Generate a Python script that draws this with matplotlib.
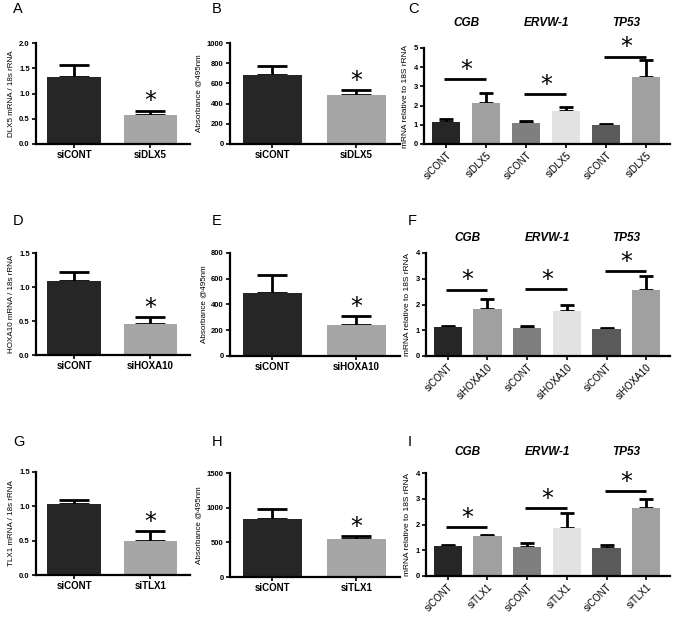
import numpy as np
import matplotlib
matplotlib.use("Agg")
import matplotlib.pyplot as plt
from matplotlib.transforms import blended_transform_factory
from matplotlib.ticker import FormatStrFormatter

plt.rcParams["font.family"] = ["Liberation Sans", "DejaVu Sans"]

# ---- data ----
dlx5_groups = ["siCONT", "siDLX5"]
hoxa10_groups = ["siCONT", "siHOXA10"]
tlx1_groups = ["siCONT", "siTLX1"]
genes = ["CGB", "ERVW-1", "TP53"]

# A / D / G : knockdown efficiency (mRNA / 18s rRNA)
dlx5_mrna = [1.32, 0.58]
dlx5_mrna_err = [0.24, 0.08]
hoxa10_mrna = [1.09, 0.46]
hoxa10_mrna_err = [0.13, 0.10]
tlx1_mrna = [1.03, 0.50]
tlx1_mrna_err = [0.06, 0.14]

# B / E / H : absorbance @495nm
dlx5_abs = [685, 487]
dlx5_abs_err = [83, 43]
hoxa10_abs = [489, 241]
hoxa10_abs_err = [140, 70]
tlx1_abs = [837, 548]
tlx1_abs_err = [144, 43]

# C / F / I : CGB, ERVW-1, TP53 (siCONT, siKD pairs)
dlx5_genes = [1.16, 2.15, 1.10, 1.72, 1.00, 3.50]
dlx5_genes_err = [0.13, 0.52, 0.12, 0.23, 0.05, 0.90]
dlx5_sig = [3.39, 2.60, 4.55]
hoxa10_genes = [1.12, 1.84, 1.10, 1.73, 1.05, 2.58]
hoxa10_genes_err = [0.04, 0.39, 0.08, 0.27, 0.05, 0.51]
hoxa10_sig = [2.58, 2.60, 3.30]
tlx1_genes = [1.15, 1.55, 1.12, 1.88, 1.08, 2.66]
tlx1_genes_err = [0.06, 0.03, 0.16, 0.55, 0.12, 0.32]
tlx1_sig = [1.90, 2.63, 3.30]

dark = "#262626"
light = "#a6a6a6"
gene_colors = ["#262626", "#a0a0a0", "#7f7f7f", "#e2e2e2", "#5a5a5a", "#a0a0a0"]

W, H = 675, 619
fig = plt.figure(figsize=(W / 100, H / 100), dpi=100)


def px_axes(x0, y0, x1, y1):
    return fig.add_axes([x0 / W, 1 - y1 / H, (x1 - x0) / W, (y1 - y0) / H])


def style(ax):
    for s in ["top", "right"]:
        ax.spines[s].set_visible(False)
    for s in ["left", "bottom"]:
        ax.spines[s].set_linewidth(1.6)
    ax.tick_params(width=1.2, length=3, direction="out", labelsize=5.5, pad=1.5)
    for t in ax.get_yticklabels():
        t.set_fontweight("bold")


def star(ax, x, y):
    ax.annotate("*", (x, y), xytext=(0, -2), textcoords="offset points",
                ha="center", va="bottom", fontsize=17, family="DejaVu Sans",
                annotation_clip=False)


def two_bar(ax, labels, vals, errs, ymax, step, fmt, ylabel):
    x = np.arange(len(vals))
    ax.bar(x, vals, width=0.7, color=[dark, light], zorder=2)
    ax.errorbar(x, vals, yerr=[[0] * len(errs), errs], fmt="none", ecolor="black",
                elinewidth=2, capsize=11, capthick=2, zorder=1)
    ax.set_xlim(-0.5, 1.52)
    ax.set_ylim(0, ymax)
    ax.set_yticks(np.arange(0, ymax + step / 2, step))
    ax.yaxis.set_major_formatter(FormatStrFormatter(fmt))
    ax.set_xticks(x, labels)
    style(ax)
    for t in ax.get_xticklabels():
        t.set_fontsize(7)
        t.set_fontweight("bold")
    ax.set_ylabel(ylabel, fontsize=5.8, labelpad=3)
    star(ax, 1, vals[1] + errs[1])


def gene_panel(ax, labels, vals, errs, sig, ymax, title_y):
    x = np.arange(len(vals))
    ax.bar(x, vals, width=0.72, color=gene_colors, zorder=2)
    ax.errorbar(x, vals, yerr=[[0] * len(errs), errs], fmt="none", ecolor="black",
                elinewidth=2, capsize=5, capthick=2, zorder=1)
    ax.set_xlim(-0.55, 5.6)
    ax.set_ylim(0, ymax)
    ax.set_yticks(np.arange(0, ymax + 1))
    ax.set_xticks(x, labels * 3)
    style(ax)
    for t in ax.get_xticklabels():
        t.set_rotation(45)
        t.set_ha("right")
        t.set_rotation_mode("anchor")
        t.set_fontsize(7)
    ax.set_ylabel("mRNA relative to 18S rRNA", fontsize=6, labelpad=3)
    tr = blended_transform_factory(ax.transData, ax.transAxes)
    for i, g in enumerate(genes):
        ax.text(2 * i + 0.5, title_y, g, transform=tr, ha="center", va="center",
                fontsize=8.5, fontweight="bold", fontstyle="italic")
        ax.plot([2 * i - 0.05, 2 * i + 1], [sig[i], sig[i]], color="black", lw=2,
                clip_on=False, solid_capstyle="butt")
        star(ax, 2 * i + 0.5, sig[i])


# row 1
two_bar(px_axes(36, 43, 190, 144), dlx5_groups, dlx5_mrna, dlx5_mrna_err,
        2.0, 0.5, "%.1f", "DLX5 mRNA / 18s rRNA")
two_bar(px_axes(230, 43, 400, 144), dlx5_groups, dlx5_abs, dlx5_abs_err,
        1000, 200, "%d", "Absorbance @495nm")
gene_panel(px_axes(424, 48, 670, 144), dlx5_groups, dlx5_genes, dlx5_genes_err,
           dlx5_sig, 5, 1.26)

# row 2
two_bar(px_axes(36, 253, 190, 355), hoxa10_groups, hoxa10_mrna, hoxa10_mrna_err,
        1.5, 0.5, "%.1f", "HOXA10 mRNA / 18s rRNA")
two_bar(px_axes(230, 253, 400, 356), hoxa10_groups, hoxa10_abs, hoxa10_abs_err,
        800, 200, "%d", "Absorbance @495nm")
gene_panel(px_axes(426, 253, 670, 356), hoxa10_groups, hoxa10_genes, hoxa10_genes_err,
           hoxa10_sig, 4, 1.15)

# row 3
two_bar(px_axes(36, 472, 190, 575), tlx1_groups, tlx1_mrna, tlx1_mrna_err,
        1.5, 0.5, "%.1f", "TLX1 mRNA / 18s rRNA")
two_bar(px_axes(230, 473, 400, 577), tlx1_groups, tlx1_abs, tlx1_abs_err,
        1500, 500, "%d", "Absorbance @495nm")
gene_panel(px_axes(426, 473, 670, 576), tlx1_groups, tlx1_genes, tlx1_genes_err,
           tlx1_sig, 4, 1.2)

# panel letters
letters = ["A", "B", "C", "D", "E", "F", "G", "H", "I"]
letter_x = [13, 212, 408] * 3
letter_y = [9] * 3 + [221] * 3 + [442] * 3
for l, lx, ly in zip(letters, letter_x, letter_y):
    fig.text(lx / W, 1 - ly / H, l, fontsize=10.5, ha="left", va="center")

fig.savefig("out.png", dpi=100)
